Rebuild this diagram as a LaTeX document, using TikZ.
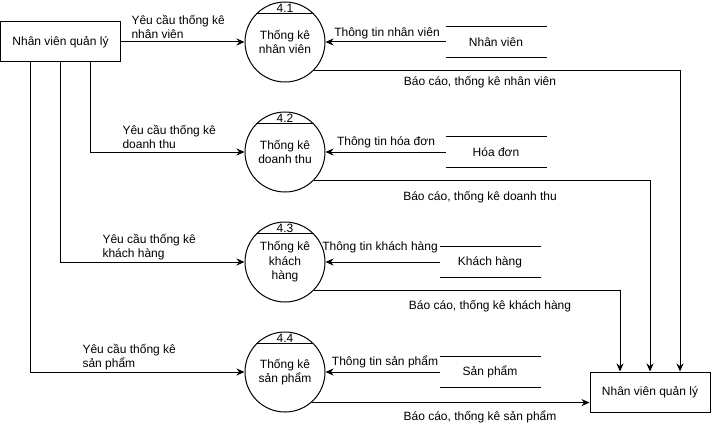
\documentclass[tikz,border=0pt]{standalone}
\usepackage{fontspec}
\setmainfont{Liberation Sans}
\usepackage{tikz}
\usetikzlibrary{arrows.meta}
\tikzset{
    entity/.style={draw, minimum width=120pt, minimum height=40pt, inner sep=0pt},
    process/.style={draw, circle, minimum size=80pt, inner sep=0pt, align=center},
    store/.style={minimum width=100pt, minimum height=30pt, inner sep=0pt,
        append after command={(\tikzlastnode.north west) edge (\tikzlastnode.north east)
            (\tikzlastnode.south west) edge (\tikzlastnode.south east)}},
    flow/.style={-{Stealth[length=8pt,width=7pt]}},
    lbl/.style={inner sep=0pt, align=left},
}
\begin{document}
\begin{tikzpicture}[x=1pt, y=-1pt, line width=1pt, font=\fontsize{12}{14.4}\selectfont]
        \useasboundingbox (0,0) rectangle (711,433);
        %TAC NHAN
        \node[entity] (mgr) at (60.5,42) {Nhân viên quản lý};
        \node[entity] (rpt) at (650,392) {Nhân viên quản lý};
        %TIEN TRINH
        \node[process] (p1) at (285,42) {Thống kê\\nhân viên};
        \node[process] (p2) at (285,152) {Thống kê\\doanh thu};
        \node[process] (p3) at (285,262) {Thống kê\\khách\\hàng};
        \node[process] (p4) at (285,372) {Thống kê\\sản phẩm};
        \foreach \p/\n in {p1/4.1, p2/4.2, p3/4.3, p4/4.4}{
            \draw (\p.44) -- (\p.136);
            \node[inner sep=0pt] at ([yshift=34pt]\p) {\n};
        }
        %KHO DU LIEU
        \node[store] (nv) at (496,42) {Nhân viên};
        \node[store] (hd) at (496,152) {Hóa đơn};
        \node[store] (kh) at (490,262) {Khách hàng};
        \node[store] (sp) at (490,372) {Sản phẩm};
        %YEU CAU
        \draw[flow] (mgr.east) -- (p1.west);
        \draw[flow] ([xshift=30pt]mgr.south) |- (p2.west);
        \draw[flow] (mgr.south) |- (p3.west);
        \draw[flow] ([xshift=-30pt]mgr.south) |- (p4.west);
        \node[lbl, anchor=west] at (131,27) {Yêu cầu thống kê\\nhân viên};
        \node[lbl, anchor=west] at (122,137) {Yêu cầu thống kê\\doanh thu};
        \node[lbl, anchor=west] at (102,247) {Yêu cầu thống kê\\khách hàng};
        \node[lbl, anchor=west] at (82,357) {Yêu cầu thống kê\\sản phẩm};
        %THONG TIN
        \draw[flow] (nv.west) -- (p1.east);
        \draw[flow] (hd.west) -- (p2.east);
        \draw[flow] (kh.west) -- (p3.east);
        \draw[flow] (sp.west) -- (p4.east);
        \node[lbl] at (387,33) {Thông tin nhân viên};
        \node[lbl] at (386,142) {Thông tin hóa đơn};
        \node[lbl] at (380,247) {Thông tin khách hàng};
        \node[lbl] at (385,362) {Thông tin sản phẩm};
        %BAO CAO
        \draw[flow] (p1.-44) -| ([xshift=30pt]rpt.north);
        \draw[flow] (p2.-44) -| (rpt.north);
        \draw[flow] (p3.-44) -| ([xshift=-30pt]rpt.north);
        \draw[flow] (p4.-49) -- (p4.-49 -| rpt.west);
        \node[lbl] at (480,82) {Báo cáo, thống kê nhân viên};
        \node[lbl] at (480,197) {Báo cáo, thống kê doanh thu};
        \node[lbl] at (490,306) {Báo cáo, thống kê khách hàng};
        \node[lbl] at (480,417) {Báo cáo, thống kê sản phẩm};
    \end{tikzpicture}
\end{document}
